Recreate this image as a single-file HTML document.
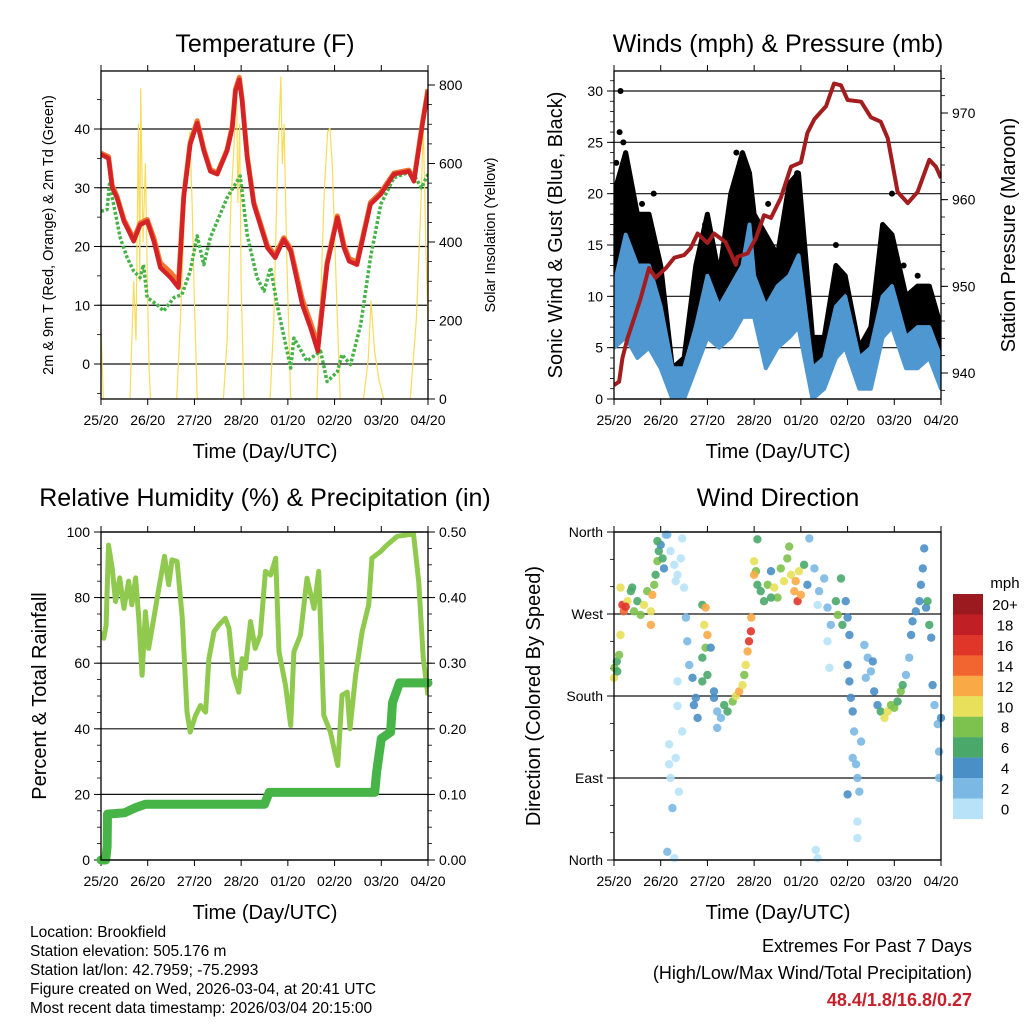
<!DOCTYPE html>
<html><head><meta charset="utf-8"><title>Station Meteogram</title>
<style>
html,body{margin:0;padding:0;background:#fff;}
svg{display:block;font-family:"Liberation Sans",Arial,sans-serif;}
</style></head>
<body>
<svg id="fig" width="1024" height="1024" viewBox="0 0 1024 1024" xmlns="http://www.w3.org/2000/svg">
<rect x="0" y="0" width="1024" height="1024" fill="#fff"/>
<g id="layer"></g>

<text x="265" y="52" font-size="25" text-anchor="middle">Temperature (F)</text>
<text x="778" y="52" font-size="25" text-anchor="middle">Winds (mph) &amp; Pressure (mb)</text>
<text x="265" y="506" font-size="25" text-anchor="middle">Relative Humidity (%) &amp; Precipitation (in)</text>
<text x="778" y="506" font-size="25" text-anchor="middle">Wind Direction</text>

<text x="265" y="458" font-size="20" text-anchor="middle">Time (Day/UTC)</text>
<text x="778" y="458" font-size="20" text-anchor="middle">Time (Day/UTC)</text>
<text x="265" y="919" font-size="20" text-anchor="middle">Time (Day/UTC)</text>
<text x="778" y="919" font-size="20" text-anchor="middle">Time (Day/UTC)</text>

<text transform="translate(53,235) rotate(-90)" font-size="14.5" text-anchor="middle">2m &amp; 9m T (Red, Orange) &amp; 2m Td (Green)</text>
<text transform="translate(495,235) rotate(-90)" font-size="14.5" text-anchor="middle">Solar Insolation (Yellow)</text>
<text transform="translate(562,235) rotate(-90)" font-size="20" text-anchor="middle">Sonic Wind &amp; Gust (Blue, Black)</text>
<text transform="translate(1015,235) rotate(-90)" font-size="20" text-anchor="middle">Station Pressure (Maroon)</text>
<text transform="translate(46,696) rotate(-90)" font-size="20" text-anchor="middle">Percent &amp; Total Rainfall</text>
<text transform="translate(540,696) rotate(-90)" font-size="20" text-anchor="middle">Direction (Colored By Speed)</text>

<g font-size="15.5">
<text x="30" y="937">Location: Brookfield</text>
<text x="30" y="956">Station elevation: 505.176 m</text>
<text x="30" y="975">Station lat/lon: 42.7959; -75.2993</text>
<text x="30" y="994">Figure created on Wed, 2026-03-04, at 20:41 UTC</text>
<text x="30" y="1013">Most recent data timestamp: 2026/03/04 20:15:00</text>
</g>
<g font-size="18" text-anchor="end">
<text x="972" y="952">Extremes For Past 7 Days</text>
<text x="972" y="979">(High/Low/Max Wind/Total Precipitation)</text>
<text x="972" y="1006" fill="#c8202a" font-weight="bold">48.4/1.8/16.8/0.27</text>
</g>
</svg>

<script>
// ---------- shared tick labels ----------
const dayLabels = ["25/20","26/20","27/20","28/20","01/20","02/20","03/20","04/20"];

// ---------- Temperature panel data ----------
const tempTime = [0,0.16,0.24,0.34,0.49,0.7,0.84,0.99,1.13,1.27,1.49,1.66,1.77,1.91,2.06,2.2,2.34,2.49,2.7,2.81,2.88,2.96,3.02,3.13,3.27,3.56,3.73,3.91,4.06,4.31,4.49,4.64,4.84,5.06,5.2,5.31,5.48,5.77,5.99,6.27,6.59,6.7,6.88,7.0];
const temp2m = [35.7,35,30,28.3,24.3,20.9,23.7,24.3,20.9,16.4,14.7,13,28.3,37.4,41,36.3,32.8,32.3,36.3,40.2,46.5,48.4,44.8,35.1,27.2,19.8,18.1,21.2,19.2,10.1,6.1,2.2,16.9,24.9,19.8,17.5,16.9,27.2,28.9,32.3,32.8,31.1,40.8,46.5];
const temp9m = [35.9,35.3,30.4,28.6,24.6,21.3,24,24.6,21.5,17.2,15.6,14,28.6,37.7,41.4,36.6,33.1,32.5,36.5,40.5,46.8,48.8,45.1,35.4,27.5,20.2,18.5,21.5,19.6,11,7,3.2,17.3,25.2,20.3,18,17.3,27.5,29.2,32.5,33,31.4,41,46.8];
const dewTime = [0,0.13,0.18,0.27,0.41,0.56,0.7,0.84,0.91,0.99,1.2,1.34,1.56,1.73,1.91,2.06,2.2,2.34,2.52,2.7,2.98,3.13,3.34,3.49,3.63,3.77,4.06,4.13,4.41,4.7,4.84,5.06,5.16,5.34,5.56,5.77,5.99,6.27,6.65,6.86,7.0];
const dewPoint = [26,26.3,30.6,27.2,21.5,18.1,15.8,14.7,16.9,11.3,10.1,9,11.3,11.8,15.8,21.8,16.9,21.5,24.9,28.3,32,22,14.7,12.4,16.4,10.1,-0.7,4.4,0.5,2.2,-3,-1.3,1.6,-0.1,6.7,18.1,27.2,31.7,32.8,30,32.3];
const solarTime = [0,0.05,0.62,0.7,0.75,0.8,0.83,0.85,0.9,0.95,1.0,1.03,1.06,1.62,1.7,1.78,1.85,1.9,1.95,2.0,2.06,2.62,2.7,2.78,2.85,2.9,2.93,2.97,3.0,3.06,3.62,3.7,3.78,3.85,3.88,3.92,3.98,4.06,4.62,4.7,4.78,4.85,4.9,4.95,5.0,5.06,5.12,5.62,5.72,5.78,5.82,5.86,5.95,6.05,6.62,6.75,6.85,6.9,6.95,7.0];
const solarValue = [180,0,0,300,150,700,300,790,400,600,250,80,0,0,200,450,600,680,500,250,0,0,150,500,650,810,500,700,300,0,0,200,600,820,600,700,350,0,0,250,530,680,690,600,420,200,0,0,100,250,180,120,50,0,0,200,500,700,400,200];
const tempTicks = [0,10,20,30,40];
const solarTicks = [0,200,400,600,800];

// ---------- Winds panel data ----------
const windTime = [0,0.25,0.5,0.75,1.0,1.25,1.5,1.75,2.0,2.25,2.5,2.75,2.9,3.0,3.25,3.5,3.75,3.95,4.25,4.5,4.75,4.95,5.25,5.5,5.75,5.95,6.25,6.5,6.75,7.0];
const windLow = [5,6,4,5,3,0,0,3,6,5,6,8,8,8,3,5,6,7,0,1,4,5,1,1,6,7,3,3,4,1];
const windHigh = [11,16,13,13,9,3,3,7,12,9,11,13,17,12,9,11,12,14,3,4,9,10,4,5,10,11,6,7,7,4];
const gustLow = [8,10,7,8,4,1,1,5,8,6,10,12,11,10,7,8,10,11,2,2,6,8,3,3,9,9,5,5,6,3];
const gustHigh = [20,24,18,18,13,3,4,13,18,12,20,24,22,18,16,14,21,22,6,6,13,12,5,7,17,16,10,11,11,7];
const gustPeakTime = [0.14,0.05,0.12,0.2,0.6,0.85,1.95,2.62,2.7,3.3,3.92,4.75,5.65,5.95,6.5,6.2];
const gustPeakValue = [30,23,26,25,19,20,17,24,23,19,22,15,10,20,12,13];
const pressTime = [0,0.11,0.18,0.29,0.43,0.57,0.75,0.89,1.11,1.29,1.5,1.64,1.79,2.0,2.14,2.39,2.61,2.64,2.86,3.04,3.21,3.36,3.57,3.79,4.0,4.14,4.29,4.54,4.71,4.86,5.0,5.29,5.5,5.71,5.86,6.07,6.29,6.5,6.75,6.89,7.0];
const pressValue = [938.6,939,941.7,944,946.3,948.6,952.1,951,952.1,953.3,953.6,954.4,956.1,955,956.1,955.1,952.5,953.4,953.8,955.6,958.2,957.9,960.2,963.8,964.3,967.7,969.3,970.8,973.4,973.2,971.5,971.3,969.5,969,967.1,960.9,959.6,960.9,964.6,963.8,962.5];
const windTicks = [0,5,10,15,20,25,30];
const pressTicks = [940,950,960,970];

// ---------- Humidity panel data ----------
const rhTime = [0,0.06,0.11,0.16,0.24,0.31,0.4,0.49,0.59,0.66,0.74,0.81,0.88,0.95,1.02,1.13,1.24,1.36,1.45,1.52,1.63,1.74,1.84,1.91,2.02,2.13,2.24,2.31,2.42,2.52,2.66,2.74,2.84,2.95,3.02,3.09,3.2,3.3,3.41,3.52,3.63,3.74,3.81,3.95,4.06,4.13,4.27,4.41,4.56,4.66,4.77,4.91,5.07,5.16,5.27,5.33,5.45,5.59,5.73,5.8,5.98,6.12,6.34,6.69,6.8,6.9,7.0];
const rhValue = [69.6,67.6,71.6,96,89,78.8,86,76.7,85,77.8,86,73.7,56.3,75.7,64.5,73.7,82.9,92.6,83.9,91.5,91,73.7,45.1,39,44,47.1,45.1,61.4,69.6,71.6,73.7,70.6,56.3,51.2,61.4,58.4,72.7,64.5,68.6,88,86.9,92,63.5,53.3,41,63.5,68.6,85.9,76.7,88,44.1,39,28.8,50.2,51.2,40,56.3,69.6,77.8,92,94,96,98.7,99.4,84.9,61.4,50.2];
const precipTime = [0,0.1,0.13,0.14,0.5,0.75,0.95,3.5,3.6,5.86,5.9,6.0,6.2,6.24,6.39,7.0];
const precipValue = [0,0,0.02,0.07,0.072,0.08,0.085,0.085,0.103,0.103,0.134,0.185,0.195,0.24,0.27,0.27];
const rhTicks = [0,20,40,60,80,100];
const precipTicks = [0,0.1,0.2,0.3,0.4,0.5];
const precipTickLabels = ["0.00","0.10","0.20","0.30","0.40","0.50"];

// ---------- Wind direction panel data ----------
const dirTime = [0.01,0.06,0.11,0,0.07, 0.18,0.21,0.14,0.29,0.36,0.43,0.5,0.57,0.64,0.71,0.79,0.82,0.86,0.79,0.39,0.25,0.14,
 0.89,0.93,0.96,1.0,1.04,0.93,1.07,1.11, 1.14,1.21,1.29,1.36,1.43,1.5,1.46,1.32,
 1.18,1.21,1.25,1.14,1.29,1.39,1.36,1.36,1.46,1.32,1.18, 1.54,1.57,1.61,1.68,1.75,1.71,1.79,
 1.89,1.96,1.93,2.0,1.96,1.89,2.0,2.07,1.89, 2.14,2.21,2.29,2.36,2.43,2.54,2.61,2.68,2.75,2.79,2.21,2.14,
 2.82,2.86,2.89,2.93,2.94,
 3.0,3.04,3.07,3.14,3.21,3.29,3.36,3.43,3.5,3.57,3.64,3.71,3.79,3.86,3.89,3.93,3.96,4.0,4.07,4.14,3.75,3.07,4.18,3.0,3.36,
 4.29,4.39,4.5,4.57,4.64,4.36,4.61,4.57, 4.75,4.79,4.86,4.89,4.96,5.0,5.04,
 5.0,5.04,5.07,5.11,5.14,5.18,5.21,5.25,5.0,5.11,5.21,5.21,5.29, 5.36,5.43,5.5,5.39,5.54,5.57,
 5.64,5.71,5.79,5.86,5.93,6.0,6.07,6.14,6.18,
 6.25,6.32,6.36,6.39,6.46,6.54,6.57,6.61,6.64,6.68,6.75,6.71,6.79,
 6.82,6.86,6.93,6.96,6.96,7.0,4.32,4.36];
const dirDeg = [211,218,225,200,207, 280,273,299,284,295,273,284,269,280,295,273,291,302,258,299,278,247,
 313,328,339,346,331,350,320,357, 357,339,324,313,331,299,353,306,
 127,90,57,9,2,75,196,169,141,112,105, 266,240,214,200,178,170,156,
 280,277,258,247,233,222,203,233,196, 178,163,156,170,163,174,180,185,192,203,145,185,
 214,229,240,251,266,
 328,317,302,295,284,302,317,299,288,320,306,331,313,295,306,284,317,291,324,302,344,352,353,313,288,
 320,295,309,277,258,280,211,240, 284,269,309,258,284,266,247,
 214,196,178,163,141,105,90,75,72,112,42,24,130, 236,222,207,200,218,185,
 170,163,156,163,170,167,174,185,192,
 203,222,247,262,273,284,302,320,342,277,258,284,244,
 192,170,149,119,90,156,11,2];
const dirSpeed = [8,7,8,10,6, 16,14,10,10,7,8,6,8,10,8,10,12,8,12,6,16,10,
 6,8,6,4,7,7,4,3, 2,1,1,1,1,1,1,1,
 1,1,2,3,1,1,1,1,1,1,1, 2,2,2,4,4,4,4,
 6,12,10,12,8,6,6,4,6, 4,3,2,6,6,8,10,12,10,8,2,4,
 10,12,16,17,12,
 10,8,6,6,6,8,4,10,8,8,10,8,10,12,12,16,10,12,6,4,8,6,2,12,6,
 2,2,2,2,2,1,1,1, 6,8,6,6,4,4,4,
 4,4,4,4,3,2,2,2,4,2,1,1,2, 2,2,2,2,4,4,
 4,6,10,10,8,8,6,8,6,
 2,2,4,4,4,4,4,4,4,4,6,6,4,
 4,2,2,2,2,4,1,1];
const dirTicks = [0,90,180,270,360];
const dirTickLabels = ["North","East","South","West","North"];
const speedBinLabels = ["0","2","4","6","8","10","12","14","16","18","20+"];
const speedColors = ["#b7e2f7","#7bb8e4","#4a8fc6","#4aa86b","#7dc24e","#e8e05a","#f9a945","#f26430","#e0362a","#c01f26","#9b1a1f"];

// ---------- rendering ----------
const NS = "http://www.w3.org/2000/svg";
const layer = document.getElementById("layer");
function mk(tag, attrs, parent) {
  const e = document.createElementNS(NS, tag);
  for (const k in attrs) e.setAttribute(k, attrs[k]);
  (parent || layer).appendChild(e);
  return e;
}
function panel(x0, x1, yTop, yBot) {
  return {x0, x1, yTop, yBot, xs: t => x0 + t * (x1 - x0) / 7};
}
function lin(v0, p0, v1, p1) { return v => p0 + (v - v0) * (p1 - p0) / (v1 - v0); }
function pathFrom(ts, vs, xs, ys) {
  let d = "";
  for (let i = 0; i < ts.length; i++) d += (i ? "L" : "M") + xs(ts[i]).toFixed(1) + "," + ys(vs[i]).toFixed(1);
  return d;
}
function bandFrom(ts, lo, hi, xs, ys) {
  let d = "";
  for (let i = 0; i < ts.length; i++) d += (i ? "L" : "M") + xs(ts[i]).toFixed(1) + "," + ys(hi[i]).toFixed(1);
  for (let i = ts.length - 1; i >= 0; i--) d += "L" + xs(ts[i]).toFixed(1) + "," + ys(lo[i]).toFixed(1);
  return d + "Z";
}
function frame(P, prefix) {
  for (let i = 0; i <= 7; i++) {
    const x = P.xs(i);
    const tb = mk("line", {x1: x, x2: x, y1: P.yBot, y2: P.yBot + 6, stroke: "#000", "stroke-width": 1});
    
    
    const tt = mk("line", {x1: x, x2: x, y1: P.yTop, y2: P.yTop - 6, stroke: "#000", "stroke-width": 1});
    
    
    const lb = mk("text", {x: x, y: P.yBot + 26, "font-size": 14, "text-anchor": "middle"});
    lb.textContent = dayLabels[i];
    
    
  }
}
function minorTicks(P, lo, hi, step, ys, side, prefix) {
  for (let v = lo; v <= hi + 1e-9; v += step) {
    const y = ys(v);
    if (y < P.yTop - 0.5 || y > P.yBot + 0.5) continue;
    const x = side === "left" ? P.x0 : P.x1;
    const dx = side === "left" ? -4 : 4;
    const t = mk("line", {x1: x, x2: x + dx, y1: y, y2: y, stroke: "#000", "stroke-width": 0.8});
    
    
  }
}
function leftAxis(P, ticks, labels, ys, prefix, grid) {
  ticks.forEach((v, i) => {
    const y = ys(v);
    if (grid) {
      const g = mk("line", {x1: P.x0, x2: P.x1, y1: y, y2: y, stroke: "#111", "stroke-width": 1.2});
      
      
    }
    const t = mk("line", {x1: P.x0 - 7, x2: P.x0, y1: y, y2: y, stroke: "#000", "stroke-width": 1});
    
    
    const lb = mk("text", {x: P.x0 - 11, y: y + 5, "font-size": 14, "text-anchor": "end"});
    lb.textContent = labels[i];
    
    
  });
}
function rightAxis(P, ticks, labels, ys, prefix) {
  ticks.forEach((v, i) => {
    const y = ys(v);
    const t = mk("line", {x1: P.x1, x2: P.x1 + 7, y1: y, y2: y, stroke: "#000", "stroke-width": 1});
    
    
    const lb = mk("text", {x: P.x1 + 11, y: y + 5, "font-size": 14, "text-anchor": "start"});
    lb.textContent = labels[i];
    
    
  });
}
function border(P, prefix) {
  const r = mk("rect", {x: P.x0, y: P.yTop, width: P.x1 - P.x0, height: P.yBot - P.yTop, fill: "none", stroke: "#000", "stroke-width": 1.3});
  
  
}
function clip(P, id) {
  const c = mk("clipPath", {id: id});
  mk("rect", {x: P.x0, y: P.yTop, width: P.x1 - P.x0, height: P.yBot - P.yTop}, c);
  const g = mk("g", {"clip-path": "url(#" + id + ")"});
  return g;
}

// ===== Panel 1: Temperature =====
const P1 = panel(101, 428, 71, 399);
const yT = lin(0, 364, 40, 129);
const yS = lin(0, 399, 800, 85);
leftAxis(P1, tempTicks, tempTicks.map(String), yT, "temperature", true);
rightAxis(P1, solarTicks, solarTicks.map(String), yS, "solar");
minorTicks(P1, -5, 55, 5, yT, "left", "temperature");
minorTicks(P1, 0, 850, 50, yS, "right", "solar");
frame(P1, "temperature");
const g1 = clip(P1, "c1");


const solarLine = mk("path", {d: pathFrom(solarTime, solarValue, P1.xs, yS), fill: "none", stroke: "#f7dc5a", "stroke-width": 1.2, "stroke-linejoin": "round"}, g1);


const dewLine = mk("path", {d: pathFrom(dewTime, dewPoint, P1.xs, yT), fill: "none", stroke: "#46b346", "stroke-width": 3.5, "stroke-dasharray": "3 2", "stroke-linejoin": "round"}, g1);


const t9Line = mk("path", {d: pathFrom(tempTime, temp9m, P1.xs, yT), fill: "none", stroke: "#f0762f", "stroke-width": 5, "stroke-linejoin": "round"}, g1);


const t2Line = mk("path", {d: pathFrom(tempTime, temp2m, P1.xs, yT), fill: "none", stroke: "#d42226", "stroke-width": 4.5, "stroke-linejoin": "round"}, g1);


border(P1, "temperature");

// ===== Panel 2: Winds & Pressure =====
const P2 = panel(614, 941, 71, 399);
const yW = lin(0, 399, 30, 91);
const yP = lin(940, 373, 970, 113);
leftAxis(P2, windTicks, windTicks.map(String), yW, "wind", true);
rightAxis(P2, pressTicks, pressTicks.map(String), yP, "pressure");
minorTicks(P2, 0, 32, 1, yW, "left", "wind");
minorTicks(P2, 936, 976, 2, yP, "right", "pressure");
frame(P2, "wind");
const g2 = clip(P2, "c2");


const gustBand = mk("path", {d: bandFrom(windTime, gustLow, gustHigh, P2.xs, yW), fill: "#000", stroke: "#000", "stroke-width": 5, "stroke-linejoin": "round"}, g2);


for (let i = 0; i < gustPeakTime.length; i++) {
  const c = mk("circle", {cx: P2.xs(gustPeakTime[i]), cy: yW(gustPeakValue[i]), r: 3, fill: "#000"}, g2);
  
  
}
const windBand = mk("path", {d: bandFrom(windTime, windLow, windHigh, P2.xs, yW), fill: "#4f97d1", stroke: "#4f97d1", "stroke-width": 4, "stroke-linejoin": "round"}, g2);


const pLine = mk("path", {d: pathFrom(pressTime, pressValue, P2.xs, yP), fill: "none", stroke: "#a31c1e", "stroke-width": 4, "stroke-linejoin": "round"}, g2);


border(P2, "wind");

// ===== Panel 3: RH & Precip =====
const P3 = panel(101, 428, 532, 860);
const yR = lin(0, 860, 100, 532);
const yPr = lin(0, 860, 0.5, 532);
leftAxis(P3, rhTicks, rhTicks.map(String), yR, "humidity", true);
rightAxis(P3, precipTicks, precipTickLabels, yPr, "precip");
minorTicks(P3, 0, 100, 5, yR, "left", "humidity");
minorTicks(P3, 0, 0.5, 0.025, yPr, "right", "precip");
frame(P3, "humidity");
const g3 = clip(P3, "c3");


const rhLine = mk("path", {d: pathFrom(rhTime, rhValue, P3.xs, yR), fill: "none", stroke: "#8fca4f", "stroke-width": 5, "stroke-linejoin": "round"}, g3);


const prLine = mk("path", {d: pathFrom(precipTime, precipValue, P3.xs, yPr), fill: "none", stroke: "#47b447", "stroke-width": 9, "stroke-linejoin": "round", "stroke-linecap": "round"}, layer);


border(P3, "humidity");

// ===== Panel 4: Wind direction =====
const P4 = panel(614, 941, 532, 860);
const yD = lin(0, 860, 360, 532);
leftAxis(P4, dirTicks, dirTickLabels, yD, "direction", true);
minorTicks(P4, 0, 360, 30, yD, "left", "direction");
frame(P4, "direction");
const g4 = mk("g", {});


for (let i = 0; i < dirTime.length; i++) {
  const bin = Math.min(10, Math.floor(dirSpeed[i] / 2));
  const c = mk("circle", {cx: P4.xs(dirTime[i]).toFixed(1), cy: yD(dirDeg[i]).toFixed(1), r: 4.2, fill: speedColors[bin], "fill-opacity": 0.9}, g4);
  
  
}
border(P4, "direction");

// colorbar legend
const leg = mk("g", {});


const mph = mk("text", {x: 1005, y: 588, "font-size": 15, "text-anchor": "middle"}, leg);
mph.textContent = "mph";


for (let i = 0; i < 11; i++) {
  const k = 10 - i;
  const y = 594 + i * 20.45;
  const r = mk("rect", {x: 953, y: y, width: 30, height: 20.6, fill: speedColors[k]}, leg);
  
  
  const t = mk("text", {x: 1005, y: y + 16, "font-size": 15, "text-anchor": "middle"}, leg);
  t.textContent = speedBinLabels[k];
  
  
}
</script>
</body></html>
